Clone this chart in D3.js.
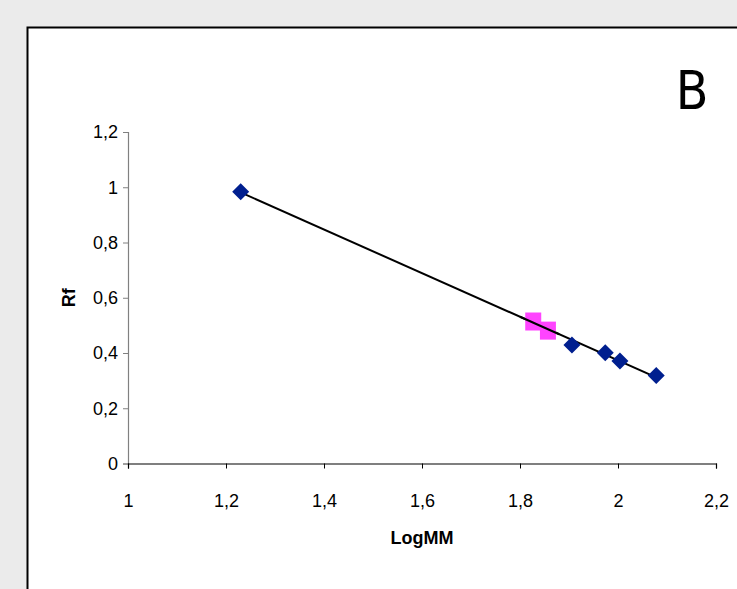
<!DOCTYPE html>
<html>
<head>
<meta charset="utf-8">
<script src="https://cdn.jsdelivr.net/npm/d3@7"></script>
<style>
  body { margin: 0; background: #ebebeb; }
  svg { display: block; }
</style>
</head>
<body>
<div id="chart"></div>
<script>
// standards (diamonds) and unknowns (pink squares)
var stdLogMM = [1.23, 1.906, 1.974, 2.004, 2.078];
var stdRf    = [0.984, 0.429, 0.401, 0.371, 0.319];
var unkLogMM = [1.827, 1.857];
var unkRf    = [0.514, 0.481];
var xTicks = [1, 1.2, 1.4, 1.6, 1.8, 2, 2.2];
var yTicks = [0, 0.2, 0.4, 0.6, 0.8, 1, 1.2];

var W = 737, H = 589;
var margin = {top: 132, right: 21, bottom: 125.5, left: 128};
var width = W - margin.left - margin.right,
    height = H - margin.top - margin.bottom;

var fmt = function(d) { return String(d).replace(".", ","); };
var FONT = "'Liberation Sans', Arial, sans-serif";

var root = d3.select("#chart").append("svg")
  .attr("width", W)
  .attr("height", H);

// white panel with black border
root.append("rect")
  .attr("x", 27.5).attr("y", 27.5)
  .attr("width", 900).attr("height", 900)
  .attr("fill", "#fff")
  .attr("stroke", "#000")
  .attr("stroke-width", 2);

root.append("text")
  .attr("x", 692).attr("y", 109)
  .attr("text-anchor", "middle")
  .style("font-family", "'Liberation Sans Narrow', 'DejaVu Sans Condensed', sans-serif")
  .style("font-size", "53px")
  .text("B");

var svg = root.append("g")
  .attr("transform", "translate(" + margin.left + "," + margin.top + ")");

var x = d3.scaleLinear().domain([1, 2.2]).range([0, width]);
var y = d3.scaleLinear().domain([0, 1.2]).range([height, 0]);

// Y axis (grey)
var gy = svg.append("g")
  .call(d3.axisLeft(y).tickValues(yTicks).tickFormat(fmt).tickSize(5).tickPadding(5));
gy.select(".domain").attr("stroke", "#808080").attr("stroke-width", 1.2);
gy.selectAll(".tick line").attr("stroke", "#808080");

// X axis (black)
var gx = svg.append("g")
  .attr("transform", "translate(0," + height + ")")
  .call(d3.axisBottom(x).tickValues(xTicks).tickFormat(fmt).tickSize(5).tickPadding(26));
gx.select(".domain").attr("stroke", "#000").attr("stroke-width", 1.2);
gx.selectAll(".tick line").attr("stroke", "#000");

svg.selectAll(".tick text")
  .style("font-family", FONT)
  .style("font-size", "18px")
  .attr("fill", "#000");

// axis titles
svg.append("text")
  .attr("x", x(1.6)).attr("y", height + 80)
  .attr("text-anchor", "middle")
  .style("font-family", FONT)
  .style("font-size", "18px").style("font-weight", "bold")
  .text("LogMM");

svg.append("text")
  .attr("transform", "translate(" + (-53.5) + "," + y(0.6) + ") rotate(-90)")
  .attr("text-anchor", "middle")
  .style("font-family", FONT)
  .style("font-size", "18px").style("font-weight", "bold")
  .text("Rf");

// linear trendline through the standards
var mx = d3.mean(stdLogMM), my = d3.mean(stdRf);
var sxy = d3.sum(stdLogMM, function(v, i) { return (v - mx) * (stdRf[i] - my); });
var sxx = d3.sum(stdLogMM, function(v) { return (v - mx) * (v - mx); });
var b = sxy / sxx, a = my - b * mx;
var xr = d3.extent(stdLogMM);
svg.append("line")
  .attr("x1", x(xr[0])).attr("y1", y(a + b * xr[0]))
  .attr("x2", x(xr[1])).attr("y2", y(a + b * xr[1]))
  .attr("stroke", "#000").attr("stroke-width", 2);

// diamonds
svg.selectAll(".std")
  .data(stdLogMM)
  .enter()
  .append("path")
    .attr("class", "std")
    .attr("transform", function(d, i) { return "translate(" + x(d) + "," + y(stdRf[i]) + ")"; })
    .attr("d", "M0,-8.5L8.5,0L0,8.5L-8.5,0Z")
    .attr("fill", "#001f8f");

// pink squares
svg.selectAll(".unk")
  .data(unkLogMM)
  .enter()
  .append("rect")
    .attr("class", "unk")
    .attr("x", function(d) { return x(d) - 8; })
    .attr("y", function(d, i) { return y(unkRf[i]) - 9; })
    .attr("width", 16).attr("height", 18)
    .attr("fill", "#ff44ff");

// line drawn over the pink squares as in the reference
svg.append("line")
  .attr("x1", x(1.8)).attr("y1", y(a + b * 1.8))
  .attr("x2", x(1.88)).attr("y2", y(a + b * 1.88))
  .attr("stroke", "#000").attr("stroke-width", 2);
</script>
</body>
</html>
